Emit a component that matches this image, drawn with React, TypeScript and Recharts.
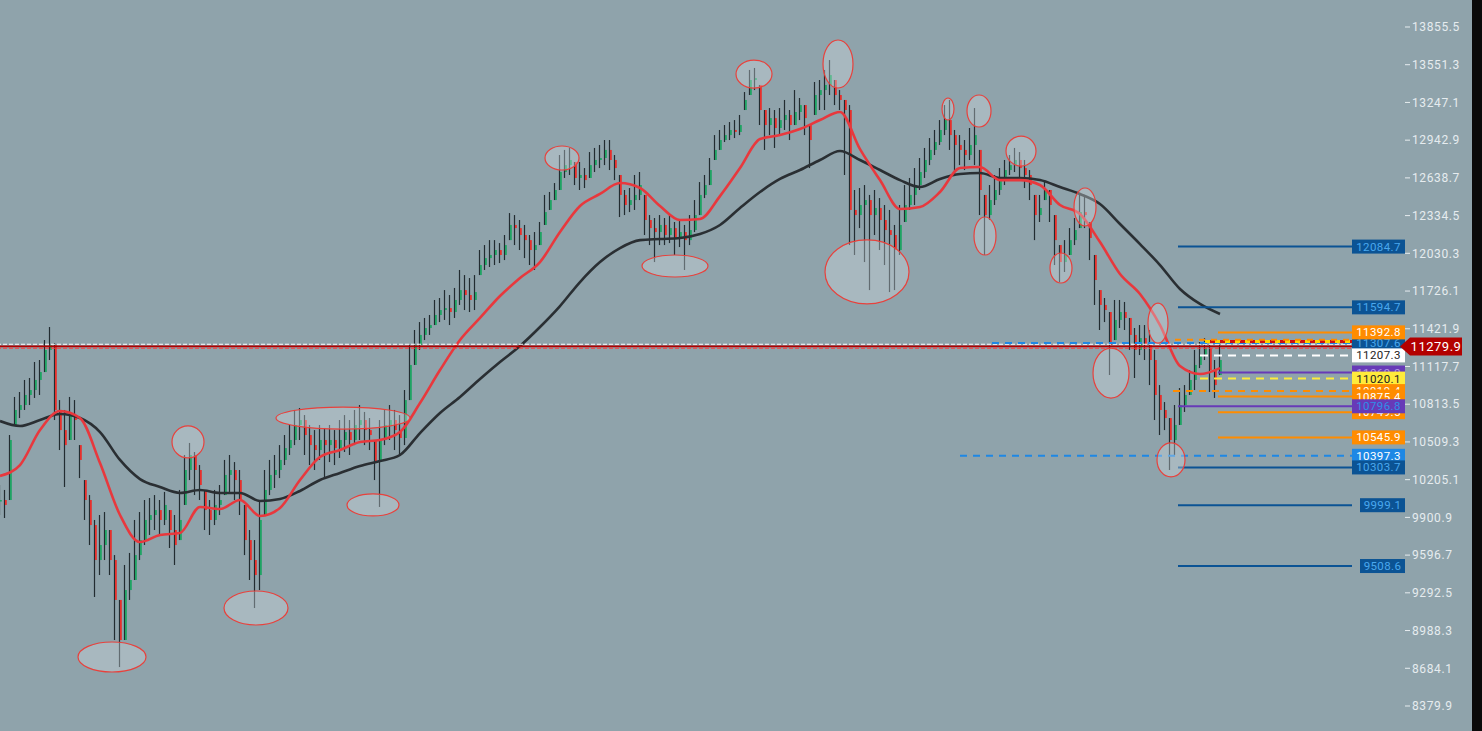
import React from "react"
import { ComposedChart, Bar, Line, XAxis, YAxis, ReferenceLine, ReferenceDot } from "recharts"

// candle values, one per bar (open = previous close)
const closes = [
  10041, 10001, 10525, 10767, 10807, 10888, 10928, 11009, 11073, 11251,
  11291, 10767, 10605, 10484, 10726, 10686, 10364, 10041, 9839, 9557,
  9678, 9799, 9557, 9235, 8912, 9315, 9396, 9597, 9718, 9880,
  9920, 9960, 9880, 10001, 9799, 9678, 9880, 10283, 10404, 10283,
  10162, 9960, 9880, 10001, 10041, 10243, 10283, 10202, 10041, 9718,
  9557, 9436, 9880, 10122, 10243, 10283, 10364, 10460, 10525, 10646,
  10686, 10565, 10484, 10444, 10525, 10484, 10525, 10460, 10525, 10589,
  10525, 10646, 10686, 10605, 10565, 10347, 10525, 10646, 10686, 10605,
  10541, 10847, 11130, 11291, 11372, 11428, 11452, 11533, 11573, 11589,
  11557, 11654, 11734, 11694, 11654, 11718, 11936, 11992, 12017, 12057,
  12017, 12097, 12259, 12234, 12178, 12137, 12057, 12097, 12202, 12363,
  12460, 12541, 12686, 12742, 12783, 12638, 12662, 12621, 12742, 12783,
  12799, 12864, 12783, 12718, 12501, 12420, 12460, 12501, 12581, 12299,
  12234, 12202, 12259, 12178, 12234, 12154, 12202, 12137, 12218, 12339,
  12501, 12581, 12702, 12864, 12944, 12984, 13025, 13009, 13065, 13267,
  13428, 13444, 13186, 13065, 13121, 13041, 13105, 13146, 13065, 13170,
  13226, 13121, 12944, 13307, 13347, 13388, 13468, 13307, 13267, 13186,
  12380, 12339, 12420, 12460, 12339, 12396, 12299, 12218, 12178, 12057,
  12259, 12420, 12501, 12581, 12686, 12783, 12864, 12928, 13025, 13105,
  12984, 12904, 12864, 12823, 12904, 12984, 12541, 12339, 12460, 12541,
  12621, 12702, 12742, 12783, 12718, 12662, 12581, 12339, 12396, 12541,
  12420, 12137, 11960, 12017, 12137, 12218, 12363, 12339, 12154, 11815,
  11614, 11573, 11291, 11493, 11557, 11509, 11372, 11251, 11347, 11291,
  11170, 10888, 10767, 10702, 10525, 10646, 10807, 10888, 11009, 11130,
  11210, 11267, 11089, 10968, 11170,
]

const highs = [
  10162, 10122, 10565, 10872, 10912, 11009, 11025, 11154, 11170, 11331,
  11436, 11307, 10847, 10767, 10872, 10847, 10484, 10202, 10081, 9880,
  9920, 9944, 9799, 9597, 9235, 9517, 9614, 9880, 9944, 10041,
  10057, 10081, 10041, 10106, 9960, 9920, 10122, 10404, 10501, 10428,
  10323, 10122, 10041, 10122, 10162, 10364, 10404, 10347, 10283, 10001,
  9799, 9718, 10041, 10283, 10364, 10404, 10484, 10565, 10646, 10767,
  10783, 10726, 10646, 10605, 10646, 10622, 10646, 10605, 10686, 10726,
  10686, 10767, 10807, 10751, 10702, 10525, 10686, 10767, 10807, 10767,
  10726, 10928, 11291, 11412, 11476, 11509, 11533, 11654, 11670, 11734,
  11694, 11751, 11896, 11855, 11831, 11855, 12057, 12097, 12137, 12137,
  12113, 12178, 12355, 12339, 12299, 12259, 12178, 12202, 12283, 12501,
  12525, 12597, 12823, 12864, 12880, 12767, 12767, 12718, 12847, 12880,
  12904, 12944, 12944, 12823, 12662, 12541, 12557, 12662, 12686, 12501,
  12339, 12315, 12339, 12315, 12339, 12283, 12299, 12259, 12339, 12460,
  12605, 12662, 12799, 12984, 13025, 13065, 13089, 13105, 13146, 13331,
  13509, 13525, 13388, 13186, 13202, 13186, 13202, 13267, 13186, 13347,
  13283, 13226, 13065, 13412, 13428, 13509, 13589, 13428, 13347, 13267,
  13226, 12541, 12557, 12581, 12501, 12541, 12476, 12420, 12380, 12259,
  12420, 12581, 12638, 12718, 12799, 12880, 12960, 13025, 13105, 13226,
  13267, 13025, 12984, 12944, 13041, 13202, 12864, 12501, 12581, 12662,
  12718, 12783, 12823, 12880, 12847, 12783, 12702, 12501, 12501, 12621,
  12541, 12339, 12097, 12137, 12234, 12315, 12501, 12501, 12283, 12017,
  11734, 11670, 11557, 11654, 11654, 11638, 11509, 11428, 11452, 11452,
  11412, 11251, 10968, 10831, 10702, 10807, 10944, 10968, 11089, 11251,
  11315, 11347, 11291, 11170, 11291,
]

const lows = [
  9920, 9896, 10041, 10646, 10702, 10767, 10807, 10864, 10888, 11073,
  11170, 10686, 10444, 10146, 10525, 10525, 10218, 9880, 9678, 9259,
  9436, 9557, 9436, 8912, 8694, 8912, 9235, 9396, 9557, 9678,
  9759, 9799, 9759, 9839, 9654, 9517, 9718, 10001, 10202, 10081,
  10041, 9799, 9759, 9839, 9920, 10081, 10106, 10041, 9920, 9597,
  9396, 9170, 9315, 9920, 10081, 10138, 10218, 10323, 10404, 10484,
  10525, 10404, 10323, 10283, 10364, 10218, 10347, 10323, 10380, 10428,
  10404, 10484, 10525, 10484, 10444, 10202, 9985, 10484, 10525, 10444,
  10404, 10484, 10847, 11130, 11251, 11331, 11372, 11452, 11476, 11493,
  11452, 11509, 11614, 11573, 11557, 11573, 11855, 11896, 11920, 11936,
  11952, 11976, 12137, 12097, 12057, 11992, 11936, 11896, 12097, 12259,
  12380, 12460, 12541, 12638, 12662, 12581, 12541, 12557, 12638, 12686,
  12718, 12742, 12702, 12621, 12323, 12339, 12363, 12380, 12460, 12178,
  12097, 11960, 12097, 12097, 12113, 12017, 12081, 11896, 12097, 12202,
  12339, 12476, 12581, 12783, 12864, 12928, 12944, 12960, 12984, 13186,
  13307, 13347, 13065, 12864, 12984, 12880, 12984, 13025, 12944, 13065,
  13105, 12984, 12718, 13146, 13186, 13186, 13307, 13226, 13186, 12662,
  12097, 12017, 12234, 11960, 11734, 12178, 12057, 11936, 11718, 11734,
  12017, 12283, 12380, 12420, 12541, 12638, 12742, 12823, 12904, 12984,
  12864, 12662, 12742, 12702, 12783, 12742, 12339, 12017, 12299, 12420,
  12501, 12581, 12662, 12686, 12621, 12557, 12460, 12137, 12283, 12460,
  12283, 11936, 11799, 11880, 12017, 12097, 12234, 12234, 11976, 11614,
  11412, 11476, 11049, 11331, 11428, 11412, 11251, 11025, 11210, 11170,
  10968, 10686, 10565, 10605, 10283, 10404, 10646, 10751, 10888, 10928,
  11105, 11170, 10912, 10864, 11049,
]

// moving averages, one value every 4 bars
const redMa = [
  10235, 10323, 10605, 10759, 10702, 10339, 9920, 9702, 9759, 9775,
  9985, 9969, 10041, 9912, 9977, 10202, 10388, 10444, 10509, 10525,
  10589, 10823, 11089, 11331, 11509, 11686, 11831, 11960, 12202, 12412,
  12509, 12597, 12557, 12412, 12299, 12307, 12492, 12718, 12952, 12984,
  13033, 13105, 13170, 12871, 12621, 12388, 12404, 12525, 12718, 12726,
  12621, 12621, 12581, 12420, 12347, 12121, 11863, 11702, 11452, 11121,
  11057, 11105,
]

const blackMa = [
  10678, 10638, 10686, 10735, 10702, 10589, 10364, 10210, 10146, 10098,
  10122, 10098, 10098, 10033, 10049, 10114, 10202, 10259, 10315, 10355,
  10404, 10581, 10743, 10872, 11017, 11154, 11283, 11436, 11605, 11799,
  11960, 12073, 12137, 12146, 12154, 12186, 12259, 12396, 12525, 12630,
  12702, 12783, 12855, 12783, 12702, 12621, 12565, 12630, 12670, 12678,
  12638, 12638, 12621, 12565, 12509, 12428, 12267, 12105, 11936, 11743,
  11622, 11541,
]

const yTicks = [
  13855.5, 13551.3, 13247.1, 12942.9, 12638.7, 12334.5, 12030.3, 11726.1, 11421.9, 11117.7,
  10813.5, 10509.3, 10205.1, 9900.9, 9596.7, 9292.5, 8988.3, 8684.1, 8379.9,
]

const lastPrice = 11279.9

// horizontal levels drawn on the right (order = paint order)
const levelPrices = [
  12084.7, 11594.7, 11307.6, 11392.8, 11207.3, 11069.0, 11020.1, 10919.4,
  10875.4, 10749.5, 10796.8, 10545.9, 10397.3, 10303.7, 9999.1, 9508.6,
]

// circled spots: bar index and price
const noteBar = [22.4, 37.6, 51.2, 68.6, 74.6, 112.4, 135, 150.8, 167.6, 173.4, 189.6, 195.8, 204.2, 197, 212.2, 217, 222.2, 231.6, 234.2]
const notePrice = [8775, 10509, 9170, 10702, 10001, 12799, 11928, 13476, 13557, 11880, 13194, 13178, 12855, 12170, 11912, 12404, 11065, 11468, 10364]
const noteRx = [34, 16, 32, 67, 26, 17, 33, 18, 15, 42, 6, 12, 15, 11, 11, 11, 18, 10, 14]
const noteRy = [15, 16, 17, 11, 11, 12, 11, 14, 24, 32, 11, 16, 15, 19, 15, 19, 25, 20, 17]

const UP = "#1fa463"
const DOWN = "#e8302c"
const WICK = "#222c31"
const NAVY = "#0b5394"
const ORANGE = "#ff8c00"
const PURPLE = "#673ab7"
const BLUE = "#1e88e5"

const levelStyles = [
  { from: 235.6, stroke: NAVY, dash: undefined, bg: NAVY, fg: "#4aa8ee" },
  { from: 235.6, stroke: NAVY, dash: undefined, bg: NAVY, fg: "#4aa8ee" },
  { from: 198.4, stroke: BLUE, dash: "7 6", bg: NAVY, fg: "#4aa8ee" },
  { from: 243.6, stroke: ORANGE, dash: undefined, bg: ORANGE, fg: "#ffffff" },
  { from: 240, stroke: "#ffffff", dash: "8 6", bg: "#ffffff", fg: "#222222" },
  { from: 243.6, stroke: PURPLE, dash: undefined, bg: PURPLE, fg: "#b39ae6" },
  { from: 240, stroke: "#ffeb3b", dash: "8 6", bg: "#ffeb3b", fg: "#222222" },
  { from: 234.6, stroke: ORANGE, dash: "7 6", bg: ORANGE, fg: "#ffffff" },
  { from: 243.6, stroke: ORANGE, dash: undefined, bg: ORANGE, fg: "#ffffff" },
  { from: 243.6, stroke: ORANGE, dash: undefined, bg: ORANGE, fg: "#ffffff" },
  { from: 235.6, stroke: PURPLE, dash: undefined, bg: PURPLE, fg: "#2f8fe8" },
  { from: 243.6, stroke: ORANGE, dash: undefined, bg: ORANGE, fg: "#ffffff" },
  { from: 192, stroke: BLUE, dash: "7 6", bg: BLUE, fg: "#ffffff" },
  { from: 235.6, stroke: NAVY, dash: undefined, bg: NAVY, fg: "#4aa8ee" },
  { from: 235.6, stroke: NAVY, dash: undefined, bg: NAVY, fg: "#4aa8ee" },
  { from: 235.6, stroke: NAVY, dash: undefined, bg: NAVY, fg: "#4aa8ee" },
]

const candles = closes.map((c, i) => {
  const h = highs[i]
  const l = lows[i]
  const prev = i === 0 ? (h + l) / 2 : closes[i - 1]
  const o = Math.min(h, Math.max(l, prev))
  return {
    i, o, h, l, c,
    range: [l, h],
    red: i % 4 === 0 ? redMa[i / 4] : null,
    black: i % 4 === 0 ? blackMa[i / 4] : null,
  }
})

function Candle(props: any) {
  const { x, y, width, height, payload } = props
  if (!payload) return null
  const top = Math.min(y, y + height)
  const span = Math.abs(height)
  const ppu = payload.h === payload.l ? 0 : span / (payload.h - payload.l)
  const cx = x + width / 2
  const hiBody = Math.max(payload.o, payload.c)
  const loBody = Math.min(payload.o, payload.c)
  const by = top + (payload.h - hiBody) * ppu
  const bh = Math.max(1.5, (hiBody - loBody) * ppu)
  return (
    <g>
      <rect x={cx - 1.1} y={top} width={1.2} height={span} fill={WICK} />
      <rect x={cx} y={by} width={1.8} height={bh} fill={payload.c >= payload.o ? UP : DOWN} />
    </g>
  )
}

const tagShape = (text: string, bg: string, fg: string) => (p: any) => {
  const w = text.length > 6 ? 53 : 45
  return (
    <g>
      <rect x={p.cx - w} y={p.cy - 7} width={w} height={14} fill={bg} />
      <text x={p.cx - w / 2} y={p.cy + 4} textAnchor="middle" fontSize={11.5} fontFamily="Roboto" letterSpacing={0.4} fill={fg}>
        {text}
      </text>
    </g>
  )
}

const lastTag = (p: any) => (
  <g>
    <polygon
      points={`${p.cx - 5},${p.cy} ${p.cx + 5},${p.cy - 9} ${p.cx + 57},${p.cy - 9} ${p.cx + 57},${p.cy + 9} ${p.cx + 5},${p.cy + 9}`}
      fill="#b30000"
    />
    <text x={p.cx + 31} y={p.cy + 5} textAnchor="middle" fontSize={13} fontFamily="Roboto" letterSpacing={0.5} fill="#ffffff">
      {lastPrice.toFixed(1)}
    </text>
  </g>
)

const ellipseShape = (rx: number, ry: number) => (p: any) => (
  <ellipse cx={p.cx} cy={p.cy} rx={rx} ry={ry} fill="rgba(214,222,226,0.36)" stroke="#e8413c" strokeWidth={1.2} />
)

export default function App() {
  return (
    <div style={{ position: "fixed", left: 0, top: 0, width: 1482, height: 731, background: "#8fa3ab" }}>
      <ComposedChart width={1472} height={731} data={candles} margin={{ top: 0, right: 0, bottom: 0, left: 0 }}>
        <XAxis type="number" dataKey="i" domain={[0, 281]} hide allowDataOverflow />
        <YAxis
          orientation="right"
          type="number"
          width={67}
          domain={[8178.2, 14073.2]}
          ticks={yTicks}
          interval={0}
          allowDataOverflow
          axisLine={false}
          tickSize={5}
          tickLine={{ stroke: "#e6ecef" }}
          tick={{ fill: "#e6ecef", fontSize: 12, fontFamily: "Roboto", letterSpacing: 0.6 }}
          tickFormatter={(v: number) => v.toFixed(1)}
        />

        <Bar dataKey="range" barSize={3} shape={(p: any) => <Candle {...p} />} activeBar={false} isAnimationActive={false} />
        <Line dataKey="black" type="monotone" stroke="#2a2f33" strokeWidth={2.6} dot={false} activeDot={false} connectNulls isAnimationActive={false} />
        <Line dataKey="red" type="monotone" stroke="#e8383d" strokeWidth={2.6} dot={false} activeDot={false} connectNulls isAnimationActive={false} />

        <ReferenceLine y={11297} stroke="#ffffff" strokeDasharray="4 2" strokeWidth={1} />
        <ReferenceLine y={lastPrice} stroke="#b00000" strokeWidth={1.6} />
        <ReferenceLine y={11265} stroke="#ff3b3b" strokeDasharray="4 2" strokeWidth={1} />

        {levelPrices.map((v, k) => (
          <ReferenceLine
            key={`l${k}`}
            segment={[{ x: levelStyles[k].from, y: v }, { x: 270.4, y: v }]}
            stroke={levelStyles[k].stroke}
            strokeWidth={2}
            strokeDasharray={levelStyles[k].dash}
          />
        ))}
        {levelPrices.map((v, k) => (
          <ReferenceDot
            key={`t${k}`}
            x={281}
            y={v}
            r={1}
            ifOverflow="visible"
            shape={tagShape(v.toFixed(1), levelStyles[k].bg, levelStyles[k].fg)}
          />
        ))}
        <ReferenceLine segment={[{ x: 241, y: 11320 }, { x: 281, y: 11320 }]} stroke="#ffd400" strokeWidth={3} strokeDasharray="5 5" />
        <ReferenceLine segment={[{ x: 242, y: 11320 }, { x: 281, y: 11320 }]} stroke="#d01010" strokeWidth={3} strokeDasharray="5 5" />
        <ReferenceLine segment={[{ x: 235, y: 11333 }, { x: 270, y: 11333 }]} stroke={ORANGE} strokeWidth={2} strokeDasharray="6 6" />

        {noteBar.map((b, k) => (
          <ReferenceDot key={`n${k}`} x={b} y={notePrice[k]} r={1} ifOverflow="visible" shape={ellipseShape(noteRx[k], noteRy[k])} />
        ))}

        <ReferenceDot x={281} y={lastPrice} r={1} ifOverflow="visible" shape={lastTag} />
      </ComposedChart>
      <div style={{ position: "absolute", left: 1472, top: 0, width: 10, height: 731, background: "#0a0a0a" }} />
    </div>
  )
}
